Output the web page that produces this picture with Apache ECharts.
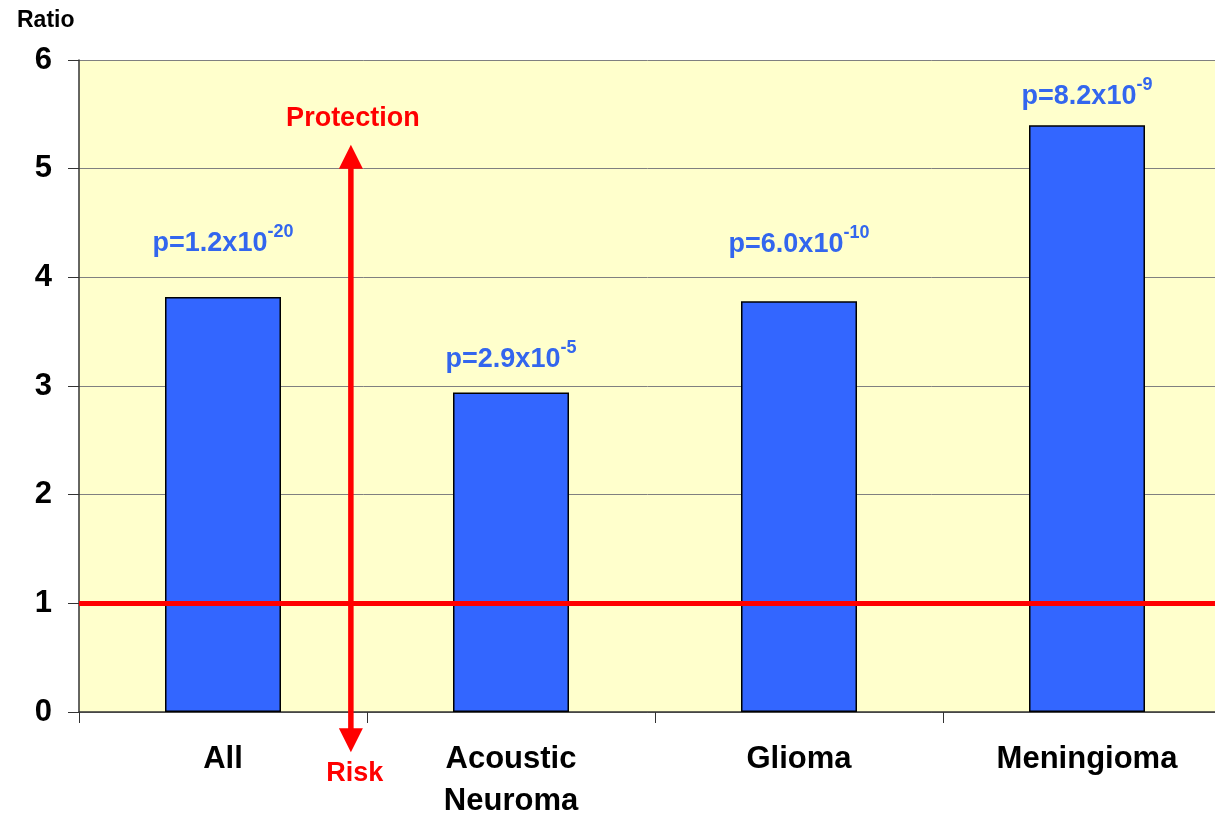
<!DOCTYPE html>
<html><head><meta charset="utf-8">
<script src="https://cdn.jsdelivr.net/npm/echarts@6/dist/echarts.min.js"></script>
<style>html,body{margin:0;padding:0;background:#fff}#c{width:1215px;height:819px}</style>
</head><body><div id="c"></div>
<script>
const categories = ['All', 'Acoustic\nNeuroma', 'Glioma', 'Meningioma'];
const ratios = [3.82, 2.94, 3.78, 5.40];
const pMantissa = ['1.2', '2.9', '6.0', '8.2'];
const pExponent = ['-20', '-5', '-10', '-9'];
const yTicks = [0, 1, 2, 3, 4, 5, 6];
const referenceLevel = 1;
const arrowX = 0.944;      // position on a 0..4 category scale
const arrowTop = 5.22;
const arrowBottom = -0.37;

const chart = echarts.init(document.getElementById('c'), null, {renderer: 'canvas'});
const font = '"Liberation Sans", Arial, sans-serif';
const labelGap = [40, 19, 43, 15];
const option = {
  animation: false,
  textStyle: {fontFamily: font},
  grid: {left: 79, top: 60, right: -16, height: 652, backgroundColor: '#FFFFCC', show: true, borderWidth: 0,
         containLabel: false, outerBoundsMode: 'none'},
  title: {text: 'Ratio', left: 12, top: 4, textStyle: {fontFamily: font, fontSize: 23, fontWeight: 'bold', color: '#000'}},
  xAxis: [{
    type: 'category', data: categories,
    axisLine: {show: true, lineStyle: {color: '#333', width: 1.5}},
    axisTick: {show: true, alignWithLabel: false, length: 11, lineStyle: {color: '#333'}},
    axisLabel: {fontFamily: font, fontSize: 31, fontWeight: 'bold', color: '#000', margin: 26, lineHeight: 42, verticalAlign: 'top'}
  }, {
    type: 'value', min: 0, max: 4, show: false
  }],
  yAxis: {
    type: 'value', min: 0, max: 6, interval: 1,
    axisLine: {show: true, lineStyle: {color: '#333', width: 1.5}},
    axisTick: {show: true, length: 11, lineStyle: {color: '#333'}},
    splitLine: {show: true, lineStyle: {color: '#808080', width: 1}},
    axisLabel: {fontFamily: font, fontSize: 31, fontWeight: 'bold', color: '#000', margin: 27,
      formatter: v => yTicks.includes(v) ? String(v) : ''}
  },
  series: [{
    type: 'bar',
    data: ratios.map((v, i) => ({value: v, label: {distance: labelGap[i]}})),
    barWidth: 116,
    itemStyle: {color: '#3366FF', borderColor: '#000', borderWidth: 1.5},
    label: {
      show: true, position: 'top', distance: 40,
      formatter: p => '{m|p=' + pMantissa[p.dataIndex] + 'x10}{e|' + pExponent[p.dataIndex] + '}',
      rich: {
        m: {fontFamily: font, fontSize: 27, fontWeight: 'bold', color: '#3366EE', verticalAlign: 'bottom'},
        e: {fontFamily: font, fontSize: 18, fontWeight: 'bold', color: '#3366EE', verticalAlign: 'bottom', padding: [0, 0, 16, 0]}
      }
    },
    markLine: {
      silent: true, symbol: ['none', 'none'],
      lineStyle: {color: '#FF0000', width: 5, type: 'solid'},
      label: {show: false},
      data: [{yAxis: referenceLevel}]
    },
    z: 2
  }]
};
chart.setOption(option);

function drawArrow() {
  const top = chart.convertToPixel({xAxisIndex: 1, yAxisIndex: 0}, [arrowX, arrowTop]);
  const bot = chart.convertToPixel({xAxisIndex: 1, yAxisIndex: 0}, [arrowX, arrowBottom]);
  const x = top[0], hw = 12, hh = 24;
  chart.setOption({graphic: [
    {type: 'line', shape: {x1: x, y1: top[1] + hh - 2, x2: x, y2: bot[1] - hh + 2}, style: {stroke: '#FF0000', lineWidth: 5.5}, z: 10},
    {type: 'polygon', shape: {points: [[x, top[1]], [x - hw, top[1] + hh], [x + hw, top[1] + hh]]}, style: {fill: '#FF0000'}, z: 10},
    {type: 'polygon', shape: {points: [[x, bot[1]], [x - hw, bot[1] - hh], [x + hw, bot[1] - hh]]}, style: {fill: '#FF0000'}, z: 10},
    {type: 'text', x: x + 2, y: top[1] - 26, style: {text: 'Protection', font: 'bold 27px ' + font, fill: '#FF0000', align: 'center', verticalAlign: 'middle'}, z: 10},
    {type: 'text', x: x + 4, y: bot[1] + 21, style: {text: 'Risk', font: 'bold 27px ' + font, fill: '#FF0000', align: 'center', verticalAlign: 'middle'}, z: 10}
  ]});
}
drawArrow();
</script></body></html>
